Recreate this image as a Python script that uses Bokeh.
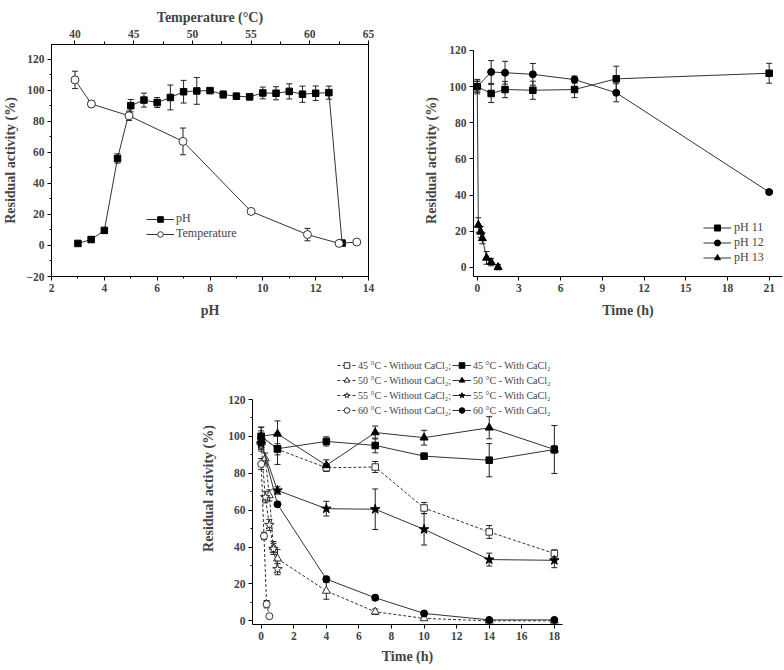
from bokeh.plotting import figure
from bokeh.models import (Range1d, LinearAxis, FixedTicker, Whisker, TeeHead,
                          ColumnDataSource, Legend, LegendItem, Label, Spacer)
from bokeh.layouts import row, column
from bokeh.embed import file_html
from bokeh.resources import INLINE

FONT = "Liberation Serif"
LC = "#333333"

# ---------------- Panel a data ----------------
ph_x = [3, 3.5, 4, 4.5, 5, 5.5, 6, 6.5, 7, 7.5, 8, 8.5, 9, 9.5, 10, 10.5, 11, 11.5, 12, 12.5, 13]
ph_y = [1.3, 3.8, 9.7, 56, 90, 93.6, 92, 95.3, 99, 99.5, 99.7, 97.2, 96.1, 95.7, 98.2, 98, 99.2, 97.4, 98, 98.4, 1.5]
ph_err = [0.5, 0.8, 1, 3, 4, 4.5, 3.2, 8, 7.3, 8.6, 1, 2.3, 2, 2, 3.8, 4.2, 4.9, 5.2, 4.7, 4.2, 1]
temp_x = [40, 41.4, 44.6, 49.2, 55, 59.8, 62.5, 64]
temp_y = [106.6, 91.1, 83.5, 67, 21.9, 7, 1.3, 2.2]
temp_err = [5.6, 2, 3, 8.6, 1, 4, 1, 1.5]

# ---------------- Panel b data ----------------
b_t11 = [0, 1, 2, 4, 7, 10, 21]
b_v11 = [100, 96.2, 98.4, 98, 98.4, 104.3, 107.4]
b_e11 = [4, 5, 4.5, 5, 4.5, 7, 5.5]
b_t12 = [0, 1, 2, 4, 7, 10, 21]
b_v12 = [100, 108.1, 107.7, 106.8, 103.9, 96.6, 41.7]
b_e12 = [3, 6.3, 6.3, 6, 2, 5, 1]
b_t13 = [0, 0.08, 0.25, 0.37, 0.67, 1, 1.5]
b_v13 = [100, 23.5, 19.7, 16.1, 5.3, 2.9, 0.2]
b_e13 = [3, 4, 3, 3, 3.5, 2, 1.5]

# ---------------- Panel c data ----------------
c_t_with = [0, 1, 4, 7, 10, 14, 18]
c45_with = [100, 93.3, 97.3, 95.1, 89.3, 87.1, 92.9]
c45_with_e = [5, 8.5, 2.5, 4, 1.5, 9, 13]
c50_with = [100, 101.4, 84.3, 102.1, 99.3, 104.7, 92.9]
c50_with_e = [3, 7, 3, 3.5, 4, 6, 2]
c55_with = [96, 70.7, 60.8, 60.5, 49.6, 33.2, 32.8]
c55_with_e = [3, 2, 4, 11, 8.5, 3.5, 4]
c60_with = [97, 63.2, 22.6, 12.5, 4, 0.5, 0.5]
c60_with_e = [3, 1, 1.5, 1.5, 1, 0.5, 0.5]

c45_wo_t = [0, 1, 4, 7, 10, 14, 18]
c45_wo = [100, 93, 83, 83.4, 61.2, 48.2, 36.5]
c45_wo_e = [5, 3, 2, 3, 3, 3.5, 2]
c50_wo_t = [0, 0.25, 0.5, 0.75, 1, 4, 7, 10, 14, 18]
c50_wo = [98, 88, 68, 40, 33.7, 16.2, 4.9, 1.3, 0, 0]
c50_wo_e = [3, 3, 3, 3, 5, 4.5, 1.5, 1, 0.5, 0.5]
c55_wo_t = [0, 0.25, 0.5, 0.75, 1]
c55_wo = [95, 67, 52, 39, 28]
c55_wo_e = [3, 3, 3, 3, 3]
c60_wo_t = [0, 0.17, 0.33, 0.5]
c60_wo = [85, 46, 9, 2.5]
c60_wo_e = [3, 2, 2, 1]


def style_axis(ax, label_std=4):
    ax.major_label_text_font = FONT
    ax.major_label_text_font_style = "bold"
    ax.major_label_text_font_size = "11.5px"
    ax.axis_label_text_font = FONT
    ax.axis_label_text_font_style = "bold"
    ax.axis_label_text_font_size = "14px"
    ax.major_tick_out = 4
    ax.major_tick_in = 0
    ax.minor_tick_out = 2
    ax.minor_tick_in = 0
    ax.major_label_standoff = 3
    ax.axis_label_standoff = label_std
    ax.axis_line_color = "black"
    ax.major_tick_line_color = "black"
    ax.minor_tick_line_color = "black"


def errbars(p, xs, ys, es, **kw):
    src = ColumnDataSource(dict(x=xs, lo=[y - e for y, e in zip(ys, es)],
                                hi=[y + e for y, e in zip(ys, es)]))
    w = Whisker(source=src, base="x", lower="lo", upper="hi", dimension="height",
                line_color="#222222", line_width=1,
                lower_head=TeeHead(size=6, line_color="#222222", line_width=1),
                upper_head=TeeHead(size=6, line_color="#222222", line_width=1),
                level="underlay", **kw)
    p.add_layout(w)


def panel_label(p, txt, sx, sy):
    p.add_layout(Label(x=sx, y=sy, x_units="screen", y_units="screen", text=txt,
                       text_font=FONT, text_font_style="bold", text_font_size="16px",
                       text_baseline="middle", text_align="center"))


# =============== Panel a ===============
pa = figure(width=392, height=326, output_backend="svg", toolbar_location=None,
            x_range=Range1d(2, 14), y_range=Range1d(-20, 129.4),
            min_border_left=49, min_border_right=24, min_border_top=38, min_border_bottom=50)
pa.extra_x_ranges = {"temp": Range1d(38, 65)}
pa.xgrid.visible = False
pa.ygrid.visible = False
pa.outline_line_color = "black"
pa.outline_line_width = 1
bottom_ax = pa.xaxis[0]
left_ax = pa.yaxis[0]
bottom_ax.ticker = FixedTicker(ticks=list(range(2, 15, 2)), minor_ticks=list(range(3, 14, 2)))
left_ax.ticker = FixedTicker(ticks=list(range(-20, 121, 20)), minor_ticks=list(range(-10, 130, 20)))
bottom_ax.axis_label = "pH"
left_ax.axis_label = "Residual activity (%)"
top_ax = LinearAxis(x_range_name="temp", axis_label="Temperature (°C)",
                    ticker=FixedTicker(ticks=[40, 45, 50, 55, 60, 65],
                                       minor_ticks=[42.5, 47.5, 52.5, 57.5, 62.5]))
pa.add_layout(top_ax, "above")
style_axis(bottom_ax, 8)
style_axis(left_ax, 5)
style_axis(top_ax, 2)
top_ax.minor_tick_out = 3

errbars(pa, ph_x, ph_y, ph_err)
errbars(pa, temp_x, temp_y, temp_err, x_range_name="temp")
l1 = pa.line(ph_x, ph_y, line_color=LC, line_width=1)
s1 = pa.scatter(ph_x, ph_y, marker="square", size=6.5, fill_color="black", line_color="black")
l2 = pa.line(temp_x, temp_y, line_color=LC, line_width=1, x_range_name="temp")
s2 = pa.scatter(temp_x, temp_y, marker="circle", size=8, fill_color="white", line_color="#333333",
                x_range_name="temp")
leg_a = Legend(items=[LegendItem(label="pH", renderers=[l1, s1]),
                      LegendItem(label="Temperature", renderers=[l2, s2])],
               location=(95, 35), border_line_color=None, background_fill_alpha=0,
               padding=0, margin=0, spacing=0, glyph_width=28, glyph_height=14,
               label_height=14, label_standoff=2, label_text_font=FONT,
               label_text_font_size="12px")
pa.add_layout(leg_a)
panel_label(pa, "a", -39, 264)

# =============== Panel b ===============
pb = figure(width=391, height=326, output_backend="svg", toolbar_location=None,
            x_range=Range1d(-0.27, -0.27 + 309 / 13.9), y_range=Range1d(-5, 123.3),
            min_border_left=81, min_border_right=1, min_border_top=44, min_border_bottom=48)
pb.xgrid.visible = False
pb.ygrid.visible = False
pb.outline_line_color = None
pb.xaxis.ticker = FixedTicker(ticks=list(range(0, 22, 3)), minor_ticks=[])
pb.yaxis.ticker = FixedTicker(ticks=list(range(0, 121, 20)), minor_ticks=[])
pb.yaxis.bounds = (-5, 120)
pb.xaxis.axis_label = "Time (h)"
pb.yaxis.axis_label = "Residual activity (%)"
style_axis(pb.xaxis[0], 8)
style_axis(pb.yaxis[0], 7)

errbars(pb, b_t11, b_v11, b_e11)
errbars(pb, b_t12, b_v12, b_e12)
errbars(pb, b_t13, b_v13, b_e13)
bl1 = pb.line(b_t11, b_v11, line_color=LC, line_width=1)
bs1 = pb.scatter(b_t11, b_v11, marker="square", size=6.5, fill_color="black", line_color="black")
bl2 = pb.line(b_t12, b_v12, line_color=LC, line_width=1)
bs2 = pb.scatter(b_t12, b_v12, marker="circle", size=7, fill_color="black", line_color="black")
bl3 = pb.line(b_t13, b_v13, line_color=LC, line_width=1)
bs3 = pb.scatter(b_t13[1:], b_v13[1:], marker="triangle", size=8, fill_color="black", line_color="black")
leg_b = Legend(items=[LegendItem(label="pH 11", renderers=[bl1, bs1]),
                      LegendItem(label="pH 12", renderers=[bl2, bs2]),
                      LegendItem(label="pH 13", renderers=[bl3, bs3])],
               location=(230, 11), border_line_color=None, background_fill_alpha=0,
               padding=0, margin=0, spacing=0, glyph_width=28, glyph_height=15,
               label_height=15, label_standoff=3, label_text_font=FONT,
               label_text_font_size="12px")
pb.add_layout(leg_b)
panel_label(pb, "b", -43, 266)

# =============== Panel c ===============
pc = figure(width=374, height=344, output_backend="svg", toolbar_location=None,
            x_range=Range1d(-0.535, 18.5), y_range=Range1d(-2, 145.5),
            min_border_left=54, min_border_right=10, min_border_top=26, min_border_bottom=46)
pc.xgrid.visible = False
pc.ygrid.visible = False
pc.outline_line_color = None
pc.xaxis.ticker = FixedTicker(ticks=list(range(0, 19, 2)), minor_ticks=[])
pc.yaxis.ticker = FixedTicker(ticks=list(range(0, 121, 20)), minor_ticks=list(range(10, 120, 20)))
pc.yaxis.bounds = (-2, 120)
pc.xaxis.axis_label = "Time (h)"
pc.yaxis.axis_label = "Residual activity (%)"
style_axis(pc.xaxis[0], 6)
style_axis(pc.yaxis[0], 9)

series_wo = [
    (c45_wo_t, c45_wo, c45_wo_e, "square", 6.5, "45 °C - Without CaCl₂;"),
    (c50_wo_t, c50_wo, c50_wo_e, "triangle", 8, "50 °C - Without CaCl₂;"),
    (c55_wo_t, c55_wo, c55_wo_e, "star", 10, "55 °C - Without CaCl₂;"),
    (c60_wo_t, c60_wo, c60_wo_e, "circle", 7, "60 °C - Without CaCl₂;"),
]
series_w = [
    (c_t_with, c45_with, c45_with_e, "square", 6.5, "45 °C - With CaCl₂"),
    (c_t_with, c50_with, c50_with_e, "triangle", 8, "50 °C - With CaCl₂"),
    (c_t_with, c55_with, c55_with_e, "star", 10, "55 °C - With CaCl₂"),
    (c_t_with, c60_with, c60_with_e, "circle", 7, "60 °C - With CaCl₂"),
]
for t, v, e, *_ in series_wo + series_w:
    errbars(pc, t, v, e)
items_wo, items_w = [], []
for (t, v, e, m, sz, lab), (t2, v2, e2, m2, sz2, lab2) in zip(series_wo, series_w):
    lr = pc.line(t, v, line_color=LC, line_width=1, line_dash="3 2")
    sr = pc.scatter(t, v, marker=m, size=sz, fill_color="white", line_color="#333333")
    lr2 = pc.line(t2, v2, line_color=LC, line_width=1)
    sr2 = pc.scatter(t2, v2, marker=m2, size=sz2, fill_color="black", line_color="black")
    items_wo.append(LegendItem(label=lab, renderers=[lr, sr]))
    items_w.append(LegendItem(label=lab2, renderers=[lr2, sr2]))
leg_c = Legend(items=items_wo + items_w, ncols=2, location=(85, 207), border_line_color=None,
               background_fill_alpha=0, padding=0, margin=0, spacing=1,
               glyph_width=19, glyph_height=14, label_height=14, label_standoff=2,
               label_text_font=FONT, label_text_font_size="10px")
pc.add_layout(leg_c)
panel_label(pc, "c", -43, 256)

layout = column(row(pa, pb), row(Spacer(width=198, height=344), pc))
open("out.html", "w").write(file_html(layout, INLINE))
